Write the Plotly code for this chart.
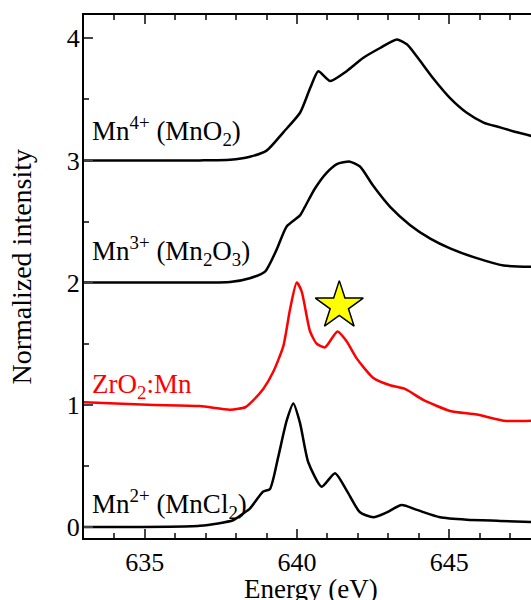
import plotly.graph_objects as go

# Mn4+ (MnO2)
e_mn4 = [633.0, 636.8, 637.8, 638.45, 639.0, 639.55, 640.1, 640.43, 640.70, 641.09, 641.63, 642.18,
         642.73, 643.28, 643.61, 643.94, 644.48, 645.03, 645.58, 646.13, 646.68, 647.23, 647.70]
i_mn4 = [3.0, 3.0, 3.005, 3.03, 3.08, 3.23, 3.39, 3.59, 3.73, 3.65, 3.73, 3.84,
         3.92, 3.99, 3.95, 3.85, 3.67, 3.51, 3.39, 3.31, 3.27, 3.23, 3.20]

# Mn3+ (Mn2O3)
e_mn3 = [633.0, 636.8, 637.8, 638.45, 638.95, 639.33, 639.66, 640.10, 640.26, 640.59, 640.98, 641.31,
         641.74, 642.07, 642.51, 643.06, 643.72, 644.38, 645.03, 645.91, 646.79, 647.70]
i_mn3 = [2.0, 2.0, 2.005, 2.036, 2.09, 2.27, 2.46, 2.55, 2.62, 2.77, 2.90, 2.97,
         2.99, 2.95, 2.79, 2.62, 2.47, 2.36, 2.28, 2.20, 2.14, 2.13]

# ZrO2:Mn
e_zr = [633.0, 635.1, 636.8, 637.8, 638.3, 638.45, 638.89, 639.22, 639.55, 639.77, 639.99, 640.15,
        640.43, 640.65, 640.92, 641.33, 641.63, 641.96, 642.51, 643.06, 643.55, 644.15, 645.03,
        645.91, 646.79, 647.70]
i_zr = [1.02, 1.0, 0.99, 0.96, 0.98, 1.01, 1.13, 1.27, 1.48, 1.78, 2.0, 1.93,
        1.60, 1.50, 1.47, 1.60, 1.52, 1.38, 1.22, 1.16, 1.13, 1.04, 0.95,
        0.92, 0.87, 0.87]

# Mn2+ (MnCl2)
e_mn2 = [633.0, 636.81, 637.90, 638.23, 638.45, 638.89, 639.11, 639.38, 639.66, 639.88, 640.10, 640.37,
         640.81, 641.25, 641.63, 642.07, 642.51, 642.95, 643.44, 643.94, 644.70, 645.58, 646.68, 647.70]
i_mn2 = [0.0, 0.01, 0.055, 0.11, 0.15, 0.29, 0.31, 0.57, 0.87, 1.01, 0.85, 0.53,
         0.33, 0.44, 0.30, 0.12, 0.08, 0.12, 0.18, 0.14, 0.08, 0.06, 0.05, 0.04]

star_e = [641.39]
star_i = [1.81]

labels = ["Mn<sup>4+</sup> (MnO<sub>2</sub>)", "Mn<sup>3+</sup> (Mn<sub>2</sub>O<sub>3</sub>)",
          "ZrO<sub>2</sub>:Mn", "Mn<sup>2+</sup> (MnCl<sub>2</sub>)"]
label_y = [3.24, 2.26, 1.15, 0.185]
label_color = ["black", "black", "#ff0000", "black"]

x_title = "Energy (eV)"
y_title = "Normalized intensity"

FONT = "Liberation Serif"

fig = go.Figure()
for e, i, c in [(e_mn4, i_mn4, "black"), (e_mn3, i_mn3, "black"), (e_zr, i_zr, "#ff0000"), (e_mn2, i_mn2, "black")]:
    fig.add_trace(go.Scatter(x=e, y=i, mode="lines", line=dict(color=c, width=2.5, shape="spline", smoothing=0.6),
                             showlegend=False))
fig.add_trace(go.Scatter(x=star_e, y=star_i, mode="markers",
                         marker=dict(symbol="star", size=36, color="#ffff00", line=dict(color="black", width=1.5)),
                         showlegend=False))

for t, y, c in zip(labels, label_y, label_color):
    fig.add_annotation(x=633.19, y=y, text=t, showarrow=False, xanchor="left", yanchor="middle",
                       font=dict(family=FONT, size=27, color=c))

# axis titles
fig.add_annotation(xref="paper", yref="paper", x=0.507, y=-0.098, text=x_title, showarrow=False,
                   xanchor="center", yanchor="middle", font=dict(family=FONT, size=27, color="black"))
fig.add_annotation(xref="paper", yref="paper", x=-0.1387, y=0.519, text=y_title, showarrow=False,
                   textangle=-90, xanchor="center", yanchor="middle", font=dict(family=FONT, size=28, color="black"))

fig.update_layout(
    width=531, height=600,
    margin=dict(l=84, r=0, t=15, b=62, autoexpand=False),
    plot_bgcolor="white", paper_bgcolor="white",
    font=dict(family=FONT, size=26, color="black"),
    xaxis=dict(range=[633.0, 647.69], tickvals=[635, 640, 645], ticks="inside", ticklen=9, tickwidth=1.5,
               showline=True, linewidth=2, linecolor="black", mirror="ticks", showgrid=False, zeroline=False,
               automargin=False,
               minor=dict(dtick=1, tick0=630, ticks="inside", ticklen=5, tickwidth=1.5, showgrid=False),
               tickfont=dict(family=FONT, size=26, color="black")),
    yaxis=dict(range=[-0.09, 4.19], tickvals=[0, 1, 2, 3, 4], ticks="inside", ticklen=9, tickwidth=1.5,
               showline=True, linewidth=2, linecolor="black", mirror=False, showgrid=False, zeroline=False,
               automargin=False, ticklabelstandoff=-3,
               minor=dict(dtick=0.5, tick0=0, ticks="inside", ticklen=5, tickwidth=1.5, showgrid=False),
               tickfont=dict(family=FONT, size=26, color="black")),
)

fig.write_html("out.html", config={"responsive": False, "displayModeBar": False},
               post_script="document.body.style.margin='0';document.body.style.padding='0';document.body.style.overflow='hidden';")
